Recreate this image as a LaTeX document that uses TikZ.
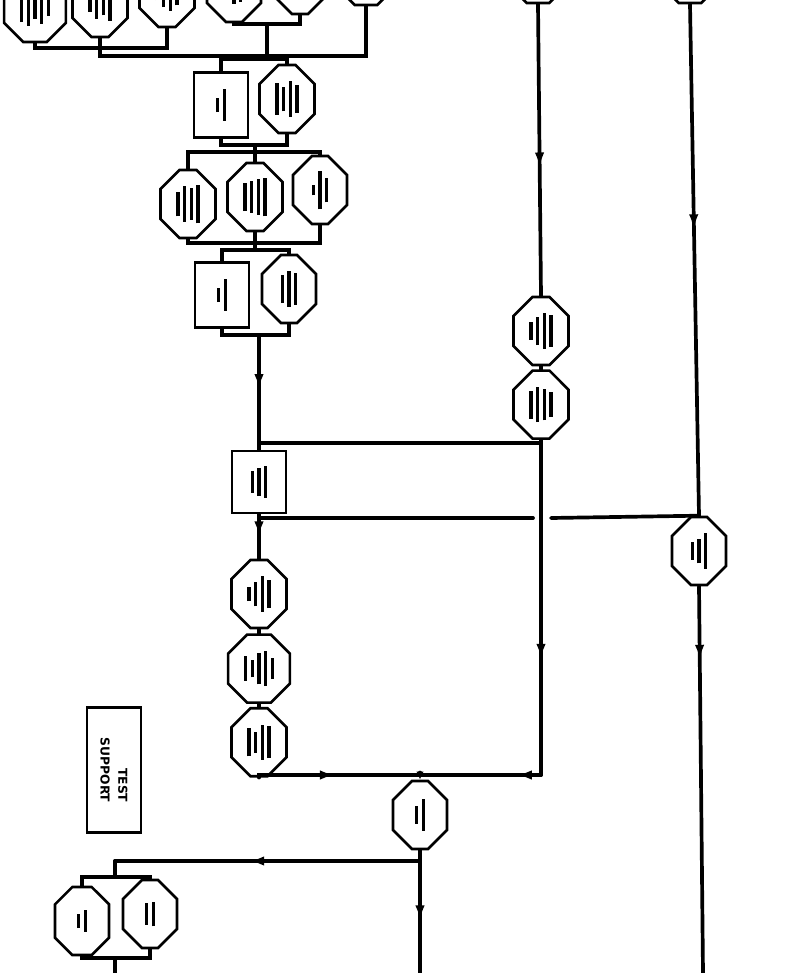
\documentclass[tikz,border=0pt]{standalone}
\usepackage{fontspec}
\newfontfamily\stampfont{DejaVu Sans}
\usepackage{tikz}
\usetikzlibrary{arrows.meta,positioning,shapes.misc,decorations.markings}

% unreadable lettering of the scan, drawn as short strokes
\newcommand{\scrawl}[1]{\foreach \h in {#1}{\raisebox{-.5\height}{\rule{2pt}{\h pt}}\hspace{1.8pt}}\unskip}

\begin{document}
\begin{tikzpicture}[x=0.02cm,y=-0.02cm,
  font=\tiny,
  oct/.style={chamfered rectangle,chamfered rectangle xsep=0.28cm,draw=black,fill=white,
              minimum width=1.08cm,minimum height=1.36cm,inner sep=1pt,line width=1.5pt},
  blk/.style={rectangle,draw=black,fill=white,minimum width=1.08cm,minimum height=1.3cm,
              inner sep=1pt,line width=1.5pt},
  bus/.style={line width=2.1pt,line cap=round},
  arr/.style={bus,-{Latex[length=1.6mm,width=1.5mm]}},
  midarr/.style={bus,postaction={decorate},
                 decoration={markings,mark=at position #1 with {\arrow{Latex[length=3mm,width=1.9mm]}}}}]
  \useasboundingbox (0,0) rectangle (794,973);
  \clip (0,0) rectangle (794,973);
  % top row, running off the sheet
  \node[oct] (t1) at (35,8)   {\scrawl{16,20,12,18,9}};
  \node[oct] (t2) at (100,3)  {\scrawl{10,18,14,20}};
  \node[oct] (t3) at (167,-7) {\scrawl{8,16,20,14}};
  \node[oct] (t4) at (234,-12) {\scrawl{12,18,16}};
  \node[oct] (t5) at (300,-20) {\scrawl{14,18}};
  \node[oct] (t6) at (366,-29) {\scrawl{12}};
  \node[oct] (a) at (538,-31) {\scrawl{12}};
  \node[oct] (b) at (690,-31) {\scrawl{12}};
  \coordinate (j1) at (167,48);
  \coordinate (j2) at (366,56);
  \coordinate (j3) at (267,24);
  \coordinate (j4) at (267,56);
  \draw[bus] (t1.south) |- (j1) -- (t3.south);
  \draw[bus] (t2.south) |- (j2) -- (t6.south);
  \draw[bus] (t4.south) |- (j3) -| (t5.south);
  \draw[bus] (j3) -- (j4);
  % second step
  \node[blk] (r1) at (221,105) {\scrawl{8,18}};
  \node[oct] (q1) at (287,99) {\scrawl{18,14,20,16}};
  \coordinate (c1) at (262,59);
  \draw[bus] (r1.north) |- (c1) -| (q1.north);
  % three in parallel
  \node[oct] (s1) at (188,204) {\scrawl{14,20,18,22}};
  \node[oct] (s2) at (255,197) {\scrawl{16,18,20,22}};
  \node[oct] (s3) at (320,190) {\scrawl{6,22,14}};
  \coordinate (c2) at (255,145);
  \coordinate (c3) at (255,152);
  \draw[bus] (r1.south) |- (c2) -| (q1.south);
  \draw[bus] (c2) -- (c3);
  \draw[bus] (s1.north) |- (c3) -| (s3.north);
  \draw[bus] (s2.north) -- (c3);
  \node[blk] (r2) at (222,295) {\scrawl{8,18}};
  \node[oct] (q2) at (289,289) {\scrawl{16,20,18}};
  \coordinate (c4) at (255,243);
  \coordinate (c5) at (255,250);
  \draw[bus] (s1.south) |- (c4) -| (s3.south);
  \draw[bus] (s2.south) -- (c4);
  \draw[bus] (c4) -- (c5);
  \draw[bus] (r2.north) |- (c5) -| (q2.north);
  \coordinate (c6) at (259,335);
  \draw[bus] (r2.south) |- (c6) -| (q2.south);
  % right hand branch
  \node[oct] (p1) at (541,331) {\scrawl{10,16,20,18}};
  \node[oct,below=0.06cm of p1] (p2) {\scrawl{16,20,18,14}};
  \draw[midarr=0.56] (a.south) -- (p1.north);
  \draw[bus] (p1.south) -- (p2.north);
  % merge into the checkpoint
  \node[blk,minimum height=1.24cm] (mid) at (259,482) {\scrawl{12,16,18}};
  \coordinate (c7) at (259,443);
  \coordinate (c8) at (541,443);
  \coordinate (c9) at (541,775);
  \draw[midarr=0.5] (c6) -- (c7);
  \draw[bus] (c7) -- (mid.north);
  \draw[bus] (p2.south) -- (c8);
  \draw[bus] (c8) -- (c7);
  \draw[midarr=0.65] (c8) -- (c9);
  % far right
  \node[oct] (r3) at (699,551) {\scrawl{10,14,20}};
  \coordinate (c10) at (259,518);
  \coordinate (c12) at (533,518);
  \coordinate (c13) at (551,518);
  \coordinate (e3) at (703,973);
  \draw[bus] (mid.south) -- (c10);
  \draw[bus] (c10) -- (c12);
  \draw[bus] (c13) -- (r3.north);
  \draw[midarr=0.44] (b.south) -- (r3.north);
  \draw[midarr=0.19] (r3.south) -- (e3);
  % middle column
  \node[oct] (m1) at (259,594) {\scrawl{8,14,20,16}};
  \node[oct,below=0.08cm of m1] (m2) {\scrawl{14,10,18,20,12}};
  \node[oct,below=0.06cm of m2] (m3) {\scrawl{16,12,20,18}};
  \draw[midarr=0.45] (c10) -- (m1.north);
  \draw[bus] (m1.south) -- (m2.north);
  \draw[bus] (m2.south) -- (m3.north);
  \coordinate (c14) at (420,775);
  \draw[midarr=0.48] (m3.south) |- (c14);
  \draw[midarr=0.2] (c9) -- (c14);
  \node[oct] (n1) at (420,815) {\scrawl{10,18}};
  \draw[arr] (c14) -- (n1.north);
  \coordinate (c15) at (420,861);
  \coordinate (c16) at (115,861);
  \coordinate (e4) at (420,973);
  \draw[bus] (n1.south) -- (c15);
  \draw[midarr=0.53] (c15) -- (e4);
  \draw[midarr=0.56] (c15) -- (c16);
  % bottom left pair
  \node[oct] (u1) at (82,921) {\scrawl{8,12}};
  \node[oct] (u2) at (150,914) {\scrawl{12,14}};
  \coordinate (c17) at (115,877);
  \coordinate (c18) at (115,958);
  \coordinate (e5) at (115,973);
  \draw[bus] (c16) -- (c17);
  \draw[bus] (u1.north) |- (c17) -| (u2.north);
  \draw[bus] (u1.south) |- (c18) -| (u2.south);
  \draw[bus] (c18) -- (e5);
  % legend box
  \node[draw,line width=1.5pt,minimum width=2.5cm,minimum height=1.08cm,rotate=-90,align=right,
        font=\stampfont\bfseries\fontsize{7}{10}\selectfont] (ts) at (114,770) {TEST\\SUPPORT};
\end{tikzpicture}
\end{document}
